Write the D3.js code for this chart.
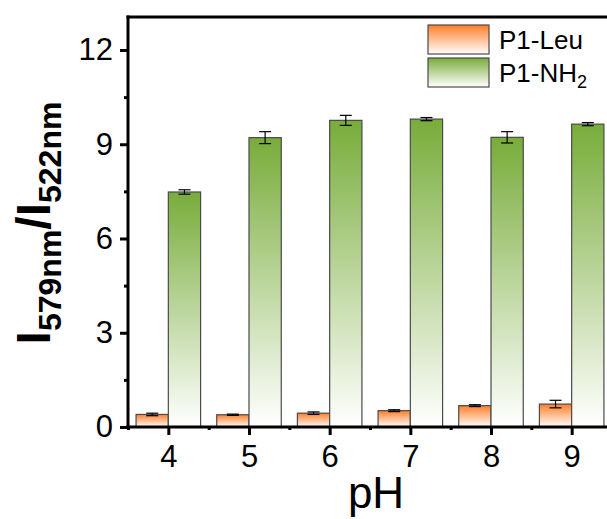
<!DOCTYPE html>
<html>
<head>
<meta charset="utf-8">
<script src="https://d3js.org/d3.v7.min.js"></script>
<style>
body { margin: 0; background: #fff; }
svg { font-family: "Liberation Sans", Arial, sans-serif; }
</style>
</head>
<body>
<div id="chart"></div>
<script>
var width = 607, height = 519;

// data
var phValues = [4, 5, 6, 7, 8, 9];
var leuMean = [0.40, 0.39, 0.44, 0.52, 0.68, 0.73];
var leuErr  = [0.04, 0.02, 0.04, 0.03, 0.03, 0.12];
var nh2Mean = [7.48, 9.21, 9.76, 9.80, 9.22, 9.64];
var nh2Err  = [0.07, 0.19, 0.16, 0.05, 0.18, 0.05];
var yTicks = [0, 3, 6, 9, 12];
var seriesNames = ["P1-Leu", "P1-NH2"];

var svg = d3.select("#chart").append("svg")
    .attr("width", width).attr("height", height);

var x = d3.scaleLinear().domain([3.5, 9.5]).range([128, 612]);
var y = d3.scaleLinear().domain([0, 13.05]).range([427, 17]);
var barW = 0.4;

var defs = svg.append("defs");
function grad(id, top) {
    var g = defs.append("linearGradient").attr("id", id)
        .attr("x1", 0).attr("y1", 0).attr("x2", 0).attr("y2", 1);
    g.append("stop").attr("offset", "0%").attr("stop-color", top);
    g.append("stop").attr("offset", "100%").attr("stop-color", "#ffffff");
}
grad("gLeu", "#ff7f2a");
grad("gNh2", "#78ac3a");

// bars
var series = [
    { mean: leuMean, err: leuErr, fill: "url(#gLeu)", off: -barW },
    { mean: nh2Mean, err: nh2Err, fill: "url(#gNh2)", off: 0 }
];

series.forEach(function(s) {
    var g = svg.append("g");
    g.selectAll("rect").data(phValues).enter().append("rect")
        .attr("x", function(d) { return x(d + s.off); })
        .attr("width", function(d) { return x(d + barW) - x(d); })
        .attr("y", function(d, i) { return y(s.mean[i]); })
        .attr("height", function(d, i) { return y(0) - y(s.mean[i]); })
        .attr("fill", s.fill)
        .attr("stroke", "#4a4a4a").attr("stroke-width", 1.2);

    var eb = g.selectAll(".eb").data(phValues).enter().append("g").attr("class", "eb");
    eb.append("line")
        .attr("x1", function(d) { return x(d + s.off + barW / 2); })
        .attr("x2", function(d) { return x(d + s.off + barW / 2); })
        .attr("y1", function(d, i) { return y(s.mean[i] + s.err[i]); })
        .attr("y2", function(d, i) { return y(s.mean[i] - s.err[i]); })
        .attr("stroke", "#000").attr("stroke-width", 1.2);
    [1, -1].forEach(function(sign) {
        eb.append("line")
            .attr("x1", function(d) { return x(d + s.off + barW / 2) - 6; })
            .attr("x2", function(d) { return x(d + s.off + barW / 2) + 6; })
            .attr("y1", function(d, i) { return y(s.mean[i] + sign * s.err[i]); })
            .attr("y2", function(d, i) { return y(s.mean[i] + sign * s.err[i]); })
            .attr("stroke", "#000").attr("stroke-width", 1.2);
    });
});

// axes
var yAxis = d3.axisLeft(y).tickValues(yTicks).tickSize(8).tickPadding(7).tickFormat(d3.format("d"));
var yMinor = d3.axisLeft(y).tickValues([1.5, 4.5, 7.5, 10.5]).tickSize(4).tickFormat("");
var xAxis = d3.axisBottom(x).tickValues(phValues).tickSize(8).tickPadding(10).tickFormat(d3.format("d"));
var xMinor = d3.axisBottom(x).tickValues([3.5, 4.5, 5.5, 6.5, 7.5, 8.5]).tickSize(3).tickFormat("");

function style(g) {
    g.attr("font-size", 31).attr("font-family", null);
    g.select(".domain").remove();
    g.selectAll(".tick line").attr("stroke", "#000").attr("stroke-width", 3);
    g.selectAll(".tick text").attr("fill", "#000").attr("font-size", 31);
}
svg.append("g").attr("transform", "translate(128,0)").call(yAxis).call(style);
svg.append("g").attr("transform", "translate(128,0)").call(yMinor).call(style);
svg.append("g").attr("transform", "translate(0,427)").call(xAxis).call(style);
svg.append("g").attr("transform", "translate(0,427)").call(xMinor).call(style);

// frame lines
svg.append("line").attr("x1", 128).attr("x2", 128).attr("y1", 15.5).attr("y2", 428.5)
    .attr("stroke", "#000").attr("stroke-width", 3);
svg.append("line").attr("x1", 126.5).attr("x2", 612).attr("y1", 427).attr("y2", 427)
    .attr("stroke", "#000").attr("stroke-width", 3);
svg.append("line").attr("x1", 126.5).attr("x2", 612).attr("y1", 17).attr("y2", 17)
    .attr("stroke", "#000").attr("stroke-width", 3);

// axis titles
svg.append("text").attr("x", 376).attr("y", 508).attr("text-anchor", "middle")
    .attr("font-size", 44).text("pH");

var yt = svg.append("text")
    .attr("transform", "translate(50,223) rotate(-90)")
    .attr("text-anchor", "middle")
    .attr("font-weight", "bold");
yt.append("tspan").attr("font-size", 48).text("I");
yt.append("tspan").attr("dy", 11).attr("font-size", 32).text("579nm");
yt.append("tspan").attr("dy", -11).attr("font-size", 48).text("/I");
yt.append("tspan").attr("dy", 11).attr("font-size", 32).text("522nm");

// legend
var legFills = ["url(#gLeu)", "url(#gNh2)"];
var leg = svg.append("g").attr("transform", "translate(428,25)");
seriesNames.forEach(function(name, i) {
    leg.append("rect").attr("x", 0).attr("y", i * 33).attr("width", 61).attr("height", 29)
        .attr("fill", legFills[i]).attr("stroke", "#4a4a4a").attr("stroke-width", 1.2);
    var t = leg.append("text").attr("x", 71).attr("y", i * 33 + 24).attr("font-size", 26);
    if (name === "P1-NH2") {
        t.append("tspan").text("P1-NH");
        t.append("tspan").attr("dy", 6).attr("font-size", 18).text("2");
    } else {
        t.text(name);
    }
});
</script>
</body>
</html>
